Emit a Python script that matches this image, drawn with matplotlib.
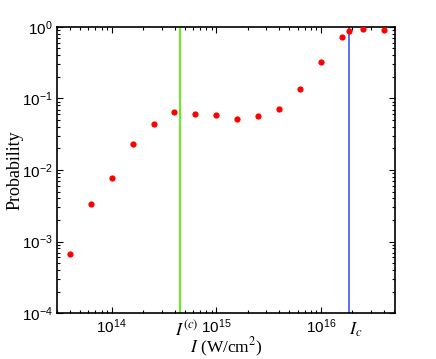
import numpy as np
import matplotlib
matplotlib.use('Agg')
import matplotlib.pyplot as plt
from matplotlib.ticker import FixedLocator, FuncFormatter, LogLocator, NullFormatter

plt.rcParams['mathtext.fontset'] = 'stix'

# intensity (W/cm^2) and ionisation probability
log_intensity = [13.6, 13.8, 14.0, 14.2, 14.4, 14.6, 14.8, 15.0, 15.2, 15.4,
                 15.6, 15.8, 16.0, 16.2, 16.27, 16.4, 16.6]
probability = [6.7e-4, 3.3e-3, 7.7e-3, 0.023, 0.0435, 0.064, 0.061, 0.059, 0.051, 0.056,
               0.071, 0.136, 0.327, 0.73, 0.89, 0.94, 0.92]

# characteristic intensities
I_low = 4.5e14    # I^(c)
I_crit = 1.87e16  # I_c

intensity = [10 ** v for v in log_intensity]

fig = plt.figure(figsize=(4.36, 3.59), dpi=100)
ax = fig.add_axes([0.1307, 0.128, 0.7753, 0.797])

ax.axvline(I_low, color='#55ee00', lw=1.3, zorder=1)
ax.axvline(I_crit, color='#2d4cf0', lw=1.1, zorder=1)
ax.plot(intensity, probability, 'o', color='#ff0000', ms=4.5, mec='none', zorder=3)

ax.set_xscale('log')
ax.set_yscale('log')
ax.set_xlim(3e13, 5.1e16)
ax.set_ylim(1e-4, 1)

fmt = FuncFormatter(lambda v, p: r'$\mathregular{10^{%d}}$' % round(np.log10(v)))
ax.xaxis.set_major_locator(FixedLocator([1e14, 1e15, 1e16]))
ax.yaxis.set_major_locator(FixedLocator([1e-4, 1e-3, 1e-2, 1e-1, 1]))
ax.xaxis.set_major_formatter(fmt)
ax.yaxis.set_major_formatter(fmt)
ax.xaxis.set_minor_locator(LogLocator(base=10, subs=np.arange(2, 10), numticks=20))
ax.yaxis.set_minor_locator(LogLocator(base=10, subs=np.arange(2, 10), numticks=20))
ax.xaxis.set_minor_formatter(NullFormatter())
ax.yaxis.set_minor_formatter(NullFormatter())

ax.tick_params(which='both', direction='in', top=True, right=True, width=0.8)
ax.tick_params(which='major', length=4, labelsize=11, pad=3)
ax.tick_params(which='minor', length=2)
for lab in ax.get_xticklabels() + ax.get_yticklabels():
    lab.set_family('Liberation Sans')
for sp in ax.spines.values():
    sp.set_linewidth(1.2)

# labels for the two characteristic intensities
trans = ax.get_xaxis_transform()
ax.text(I_low * 0.89, -0.025, r'$I^{(c)}$', transform=trans, ha='left', va='top',
        fontsize=13)
ax.text(I_crit * 0.98, -0.025, r'$I_c$', transform=trans, ha='left', va='top',
        fontsize=13)

ax.set_xlabel(r'$I$ (W/cm$^2$)', family='Liberation Serif', fontsize=12.5, labelpad=0)
ax.set_ylabel('Probability', family='Liberation Serif', fontsize=13)
ax.yaxis.set_label_coords(-0.1, 0.5)

fig.savefig('out.png', dpi=100)
